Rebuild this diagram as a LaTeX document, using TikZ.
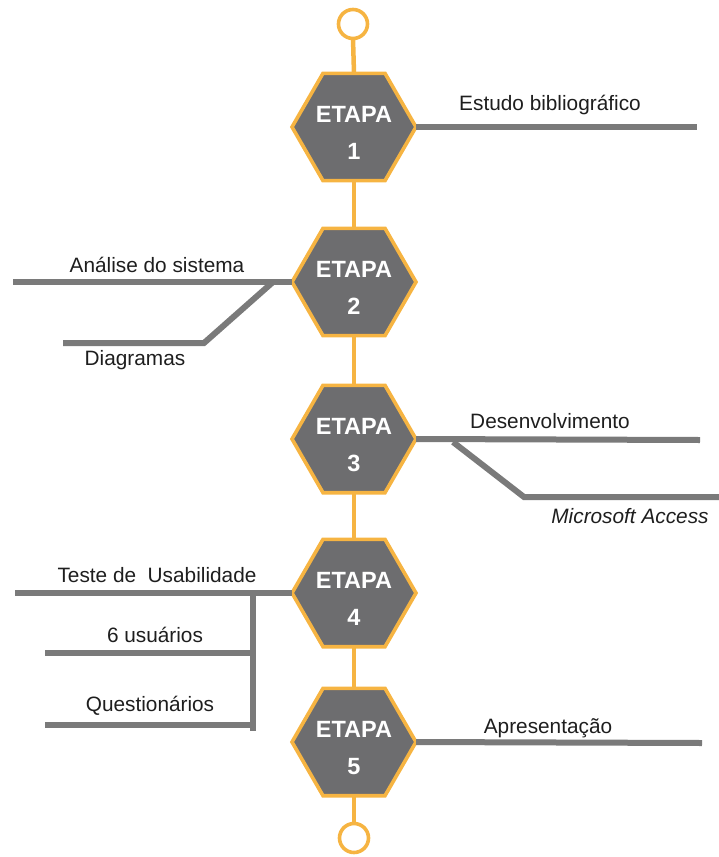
\documentclass[tikz,border=0pt]{standalone}
\usepackage{fontspec}
\setmainfont{Liberation Sans}
\usetikzlibrary{shapes.geometric,backgrounds}
\definecolor{hexfill}{RGB}{109,109,111}
\definecolor{hexrim}{RGB}{246,180,66}
\definecolor{branchgray}{RGB}{122,122,122}
\definecolor{txt}{RGB}{30,30,30}
\tikzset{
  stage/.style={regular polygon, regular polygon sides=6, minimum size=124pt,
    inner sep=0pt, outer sep=0pt, fill=hexfill, draw=hexrim, line width=3.6pt},
  stagetext/.style={text=white, font=\fontsize{23.5}{37}\selectfont\bfseries,
    align=center, inner sep=0pt, yshift=-6pt},
  endcap/.style={circle, draw=hexrim, line width=3.6pt, fill=white,
    minimum size=29pt, inner sep=0pt, outer sep=0pt},
  spine/.style={draw=hexrim, line width=4.5pt},
  branch/.style={draw=branchgray, line width=6pt},
  lbl/.style={text=txt, font=\fontsize{20.8}{24}\selectfont, inner sep=0pt}
}
\begin{document}
\begin{tikzpicture}[x=1pt,y=-1pt]
\useasboundingbox (0,0) rectangle (719,857);

% stages and end circles
\node[endcap] (top) at (353,24) {};
\node[stage] (s1) at (354,127) {};
\node[stage] (s2) at (354,282) {};
\node[stage] (s3) at (354,439) {};
\node[stage] (s4) at (354,593) {};
\node[stage] (s5) at (354,742) {};
\node[endcap] (bot) at (354,838) {};

\node[stagetext] (t1) at (s1) {ETAPA\\1};
\node[stagetext] (t2) at (s2) {ETAPA\\2};
\node[stagetext] (t3) at (s3) {ETAPA\\3};
\node[stagetext] (t4) at (s4) {ETAPA\\4};
\node[stagetext] (t5) at (s5) {ETAPA\\5};

% vertical timeline behind the stages
\begin{scope}[on background layer]
  \draw[spine] (top.south) -- (s1.north);
  \draw[spine] (s1.south) -- (s2.north);
  \draw[spine] (s2.south) -- (s3.north);
  \draw[spine] (s3.south) -- (s4.north);
  \draw[spine] (s4.south) -- (s5.north);
  \draw[spine] (s5.south) -- (bot.north);
\end{scope}

% stage 1
\coordinate (e1) at (697,127);
\draw[branch] (s1.east) -- (e1);
\node[lbl] (l1) at (550,105) {Estudo bibliográfico};

% stage 2
\coordinate (e2) at (13,282);
\coordinate (k2a) at (273,282);
\coordinate (k2b) at (204,343);
\coordinate (e2b) at (63,343);
\draw[branch] (s2.west) -- (e2);
\draw[branch, line join=miter] (k2a) -- (k2b) -- (e2b);
\node[lbl] (l2) at (157,265) {Análise do sistema};
\node[lbl] (l2b) at (135,360) {Diagramas};

% stage 3
\coordinate (e3) at (700,440);
\coordinate (k3a) at (453,442);
\coordinate (k3b) at (524,497);
\coordinate (e3b) at (719,497);
\draw[branch] (s3.east) -- (e3);
\draw[branch, line join=miter] (k3a) -- (k3b) -- (e3b);
\node[lbl] (l3) at (550,421) {Desenvolvimento};
\node[lbl] (l3b) at (630,516) {\itshape Microsoft Access};

% stage 4
\coordinate (e4) at (15,593);
\coordinate (k4top) at (253,593);
\coordinate (k4bot) at (253,731);
\coordinate (k4m) at (253,653);
\coordinate (k4q) at (253,725);
\coordinate (e4m) at (45,653);
\coordinate (e4q) at (45,725);
\draw[branch] (s4.west) -- (e4);
\draw[branch] (k4top) -- (k4bot);
\draw[branch] (k4m) -- (e4m);
\draw[branch] (k4q) -- (e4q);
\node[lbl] (l4) at (157,575) {Teste de\ \ Usabilidade};
\node[lbl] (l4b) at (155,635) {6 usuários};
\node[lbl] (l4c) at (150,706) {Questionários};

% stage 5
\coordinate (e5) at (702,743);
\draw[branch] (s5.east) -- (e5);
\node[lbl] (l5) at (548,728) {Apresentação};
\end{tikzpicture}
\end{document}
